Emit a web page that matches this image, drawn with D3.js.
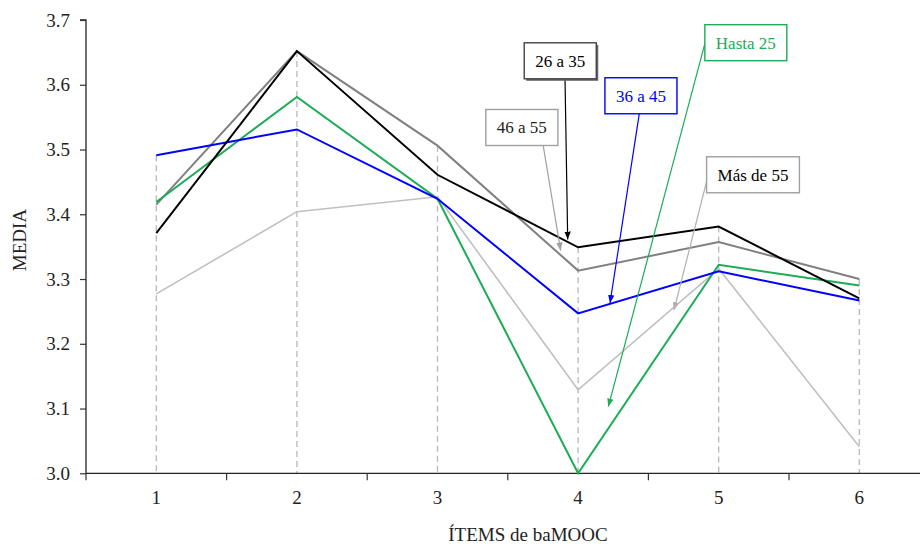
<!DOCTYPE html>
<html>
<head>
<meta charset="utf-8">
<script src="https://cdn.jsdelivr.net/npm/d3@7/dist/d3.min.js"></script>
<style>
  body { margin: 0; background: #fff; }
  svg { display: block; font-family: "Liberation Serif", "Times New Roman", serif; }
</style>
</head>
<body>
<svg id="chart" width="920" height="544"></svg>
<script>
// ---- data ----
const categories = ["1", "2", "3", "4", "5", "6"];
const yTicks = [3.0, 3.1, 3.2, 3.3, 3.4, 3.5, 3.6, 3.7];

const seriesNames = ["Más de 55", "46 a 55", "Hasta 25", "36 a 45", "26 a 35"];
const seriesColors = ["#c0c0c0", "#808080", "#1aad55", "#0000ff", "#000000"];
const seriesWidths = [1.6, 2, 2, 2, 2];

const valsMas55  = [3.277, 3.404, 3.427, 3.129, 3.316, 3.041];
const vals46a55  = [3.415, 3.652, 3.506, 3.313, 3.357, 3.300];
const valsHasta25 = [3.419, 3.581, 3.424, 3.000, 3.322, 3.290];
const vals36a45  = [3.491, 3.531, 3.424, 3.247, 3.312, 3.267];
const vals26a35  = [3.371, 3.652, 3.461, 3.349, 3.381, 3.270];
const seriesValues = [valsMas55, vals46a55, valsHasta25, vals36a45, vals26a35];

// callouts: label, colour, box centre (category units, value), leader start, arrow tip
const calloutLabels = ["26 a 35", "46 a 55", "36 a 45", "Hasta 25", "Más de 55"];
const calloutText   = ["#000000", "#222222", "#0000ff", "#1aad55", "#000000"];
const calloutBorder = ["#444444", "#a0a0a0", "#0000ff", "#1aad55", "#a0a0a0"];
const calloutLine   = ["#000000", "#a0a0a0", "#0000ff", "#1aad55", "#b0b0b0"];
const calloutBox    = [[3.873, 3.637], [3.600, 3.534], [4.447, 3.583], [5.193, 3.665], [5.244, 3.461]];
const calloutStart  = [[3.907, 3.609], [3.752, 3.506], [4.435, 3.555], [4.902, 3.664], [4.926, 3.461]];
const calloutTip    = [[3.926, 3.361], [3.876, 3.344], [4.227, 3.263], [4.215, 3.103], [4.682, 3.252]];

// ---- layout ----
const svg = d3.select("#chart");
const mLeft = 86, mTop = 20, mBottom = 473.3, bandW = 140.6;

const x = d3.scaleBand().domain(categories).range([mLeft, mLeft + bandW * categories.length]).paddingInner(0).paddingOuter(0);
const xc = d3.scaleLinear().domain([0.5, categories.length + 0.5]).range([mLeft, mLeft + bandW * categories.length]);
const y = d3.scaleLinear().domain([3.0, 3.7]).range([mBottom, mTop]);
const cx = c => x(c) + x.bandwidth() / 2;

// drop lines (dashed) from max to axis
categories.forEach((c, i) => {
  const mx = d3.max(seriesValues, s => s[i]);
  svg.append("line")
    .attr("x1", cx(c)).attr("x2", cx(c))
    .attr("y1", y(mx)).attr("y2", y(3.0))
    .attr("stroke", "#b8b8b8").attr("stroke-width", 1.3)
    .attr("stroke-dasharray", "6,4");
});

// Y axis
const yAxis = d3.axisLeft(y).tickValues(yTicks).tickFormat(d3.format(".1f")).tickSize(6).tickPadding(10);
const gy = svg.append("g").attr("transform", `translate(${mLeft},0)`).call(yAxis);
gy.select(".domain").attr("stroke", "#222").attr("stroke-width", 1.3).attr("d", `M-6,${mTop}H0V${mBottom}`);
gy.selectAll(".tick line").attr("stroke", "#333").attr("stroke-width", 1.2);
gy.selectAll(".tick text").attr("font-size", 19).attr("fill", "#222").attr("font-family", "Liberation Serif");

// X axis
const gx = svg.append("g").attr("transform", `translate(0,${mBottom})`);
gx.append("line").attr("x1", mLeft).attr("x2", 920).attr("y1", 0).attr("y2", 0)
  .attr("stroke", "#222").attr("stroke-width", 1.3);
categories.forEach(c => {
  gx.append("line").attr("x1", x(c)).attr("x2", x(c)).attr("y1", 0).attr("y2", 7)
    .attr("stroke", "#333").attr("stroke-width", 1.2);
  gx.append("text").attr("x", cx(c)).attr("y", 31).attr("text-anchor", "middle")
    .attr("font-size", 19).attr("fill", "#222").text(c);
});

// Axis titles
svg.append("text").attr("transform", "translate(26,240) rotate(-90)")
  .attr("text-anchor", "middle").attr("font-size", 19).attr("fill", "#222").text("MEDIA");
svg.append("text").attr("x", 528).attr("y", 541).attr("text-anchor", "middle")
  .attr("font-size", 19).attr("fill", "#222").text("ÍTEMS de baMOOC");

// Lines
const line = d3.line().x((d, i) => cx(categories[i])).y(d => y(d));
seriesValues.forEach((vals, k) => {
  svg.append("path").datum(vals)
    .attr("d", line)
    .attr("fill", "none")
    .attr("stroke", seriesColors[k])
    .attr("stroke-width", seriesWidths[k])
    .attr("stroke-linejoin", "miter");
});

// Arrow markers
const defs = svg.append("defs");
calloutLine.forEach((col, i) => {
  defs.append("marker").attr("id", "arr" + i)
    .attr("viewBox", "0 0 10 10").attr("refX", 10).attr("refY", 5)
    .attr("markerWidth", 8).attr("markerHeight", 8).attr("markerUnits", "userSpaceOnUse")
    .attr("orient", "auto")
    .append("path").attr("d", "M0,1 L10,5 L0,9 Z").attr("fill", col);
});

// Callouts
calloutLabels.forEach((lab, i) => {
  svg.append("line")
    .attr("x1", xc(calloutStart[i][0])).attr("y1", y(calloutStart[i][1]))
    .attr("x2", xc(calloutTip[i][0])).attr("y2", y(calloutTip[i][1]))
    .attr("stroke", calloutLine[i]).attr("stroke-width", 1.2)
    .attr("marker-end", `url(#arr${i})`);
  const g = svg.append("g");
  const bx = xc(calloutBox[i][0]), by = y(calloutBox[i][1]);
  const rect = g.append("rect");
  const t = g.append("text").attr("x", bx).attr("y", by).attr("dy", "0.35em")
    .attr("text-anchor", "middle").attr("font-size", 17).attr("fill", calloutText[i]).text(lab);
  const w = t.node().getComputedTextLength() + 22, h = 36;
  if (i === 0) {
    g.insert("rect", "rect").attr("x", bx - w / 2 + 2).attr("y", by - h / 2 + 2)
      .attr("width", w).attr("height", h).attr("fill", "#666");
  }
  rect.attr("x", bx - w / 2).attr("y", by - h / 2).attr("width", w).attr("height", h)
    .attr("fill", "#fff").attr("stroke", calloutBorder[i]).attr("stroke-width", 1.4);
});
</script>
</body>
</html>
